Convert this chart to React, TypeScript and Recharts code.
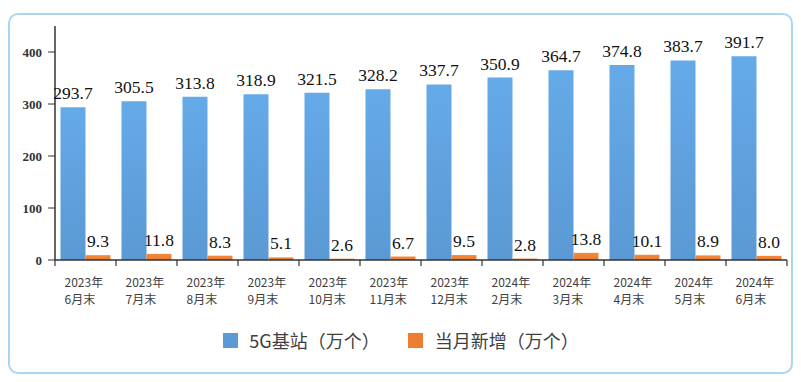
import React from 'react';
import { BarChart, Bar, XAxis, YAxis, LabelList, Legend } from 'recharts';

const categories = ['2023年|6月末', '2023年|7月末', '2023年|8月末', '2023年|9月末', '2023年|10月末', '2023年|11月末', '2023年|12月末', '2024年|2月末', '2024年|3月末', '2024年|4月末', '2024年|5月末', '2024年|6月末'];
const baseStations = [293.7, 305.5, 313.8, 318.9, 321.5, 328.2, 337.7, 350.9, 364.7, 374.8, 383.7, 391.7];
const monthlyNew = [9.3, 11.8, 8.3, 5.1, 2.6, 6.7, 9.5, 2.8, 13.8, 10.1, 8.9, 8.0];
const yTicks = [0, 100, 200, 300, 400];
const seriesNames = ['5G基站（万个）', '当月新增（万个）'];

const data = categories.map((c, i) => ({ cat: c, total: baseStations[i], added: monthlyNew[i] }));

const BLUE = '#5b9bd5';
const ORANGE = '#ed7d31';

const XTick = (props: any) => {
  const { x, y, payload, index } = props;
  const off = payload && payload.offset ? payload.offset : 30.5;
  const [l1, l2] = String(payload.value).split('|');
  const axisY = y - 8;
  return (
    <g>
      <line x1={x - off} y1={axisY} x2={x - off} y2={axisY + 6} stroke="#333" strokeWidth={1.2} />
      {index === categories.length - 1 && (
        <line x1={x + off} y1={axisY} x2={x + off} y2={axisY + 6} stroke="#333" strokeWidth={1.2} />
      )}
      <text x={x - 21} y={axisY + 27} fontSize={12} fill="#404040" fontFamily="'Noto Sans CJK SC', sans-serif" textAnchor="start">{l1}</text>
      <text x={x - 21} y={axisY + 44} fontSize={12} fill="#404040" fontFamily="'Noto Sans CJK SC', sans-serif" textAnchor="start">{l2}</text>
    </g>
  );
};

const LegendContent = () => (
  <div style={{ display: 'flex', justifyContent: 'center', alignItems: 'center', height: 30, fontFamily: "'Noto Sans CJK SC', sans-serif", fontSize: 18, color: '#404040' }}>
    <span style={{ display: 'inline-block', width: 15, height: 15, background: BLUE, marginRight: 11, flexShrink: 0 }} />
    <span style={{ marginRight: 28 }}>{seriesNames[0]}</span>
    <span style={{ display: 'inline-block', width: 15, height: 15, background: ORANGE, marginRight: 12, flexShrink: 0 }} />
    <span>{seriesNames[1]}</span>
  </div>
);

const fmt = (v: any) => Number(v).toFixed(1);

export default function App() {
  return (
    <div style={{ position: 'relative', width: 801, height: 382, margin: -8, background: '#fff' }}>
      <div style={{ position: 'absolute', left: 8, top: 13, width: 781, height: 357, border: '2px solid #a9d5f6', borderRadius: 10 }} />
      <div style={{ position: 'absolute', left: 0, top: 0 }}>
        <BarChart width={801} height={382} data={data} margin={{ top: 26, right: 14, left: 15, bottom: 27 }} barCategoryGap="9%" barGap={0}>
          <defs>
            <linearGradient id="gBlue" x1="0" y1="0" x2="0" y2="1">
              <stop offset="0%" stopColor="#65aae8" />
              <stop offset="100%" stopColor="#5a99d4" />
            </linearGradient>
            <linearGradient id="gOrange" x1="0" y1="0" x2="0" y2="1">
              <stop offset="0%" stopColor="#f28a3e" />
              <stop offset="100%" stopColor="#ea7a2e" />
            </linearGradient>
          </defs>
          <XAxis dataKey="cat" height={65} tickLine={false} axisLine={{ stroke: '#333', strokeWidth: 1.5 }} tick={<XTick />} interval={0} />
          <YAxis domain={[0, 450]} ticks={yTicks} width={40} tickSize={7} tickMargin={6} axisLine={{ stroke: '#333', strokeWidth: 1.5 }} tickLine={{ stroke: '#333' }} tick={{ fontSize: 13, fontWeight: 'bold', fill: '#333', fontFamily: "'Liberation Serif', serif" }} />
          <Legend verticalAlign="bottom" content={<LegendContent />} />
          <Bar dataKey="total" name={seriesNames[0]} fill="url(#gBlue)" isAnimationActive={false}>
            <LabelList dataKey="total" position="top" offset={8} formatter={fmt} style={{ fontSize: 17.5, fill: '#111', fontFamily: "'Liberation Serif', serif" }} />
          </Bar>
          <Bar dataKey="added" name={seriesNames[1]} fill="url(#gOrange)" isAnimationActive={false}>
            <LabelList dataKey="added" position="top" offset={8} formatter={fmt} style={{ fontSize: 17.5, fill: '#111', fontFamily: "'Liberation Serif', serif" }} />
          </Bar>
        </BarChart>
      </div>
    </div>
  );
}
